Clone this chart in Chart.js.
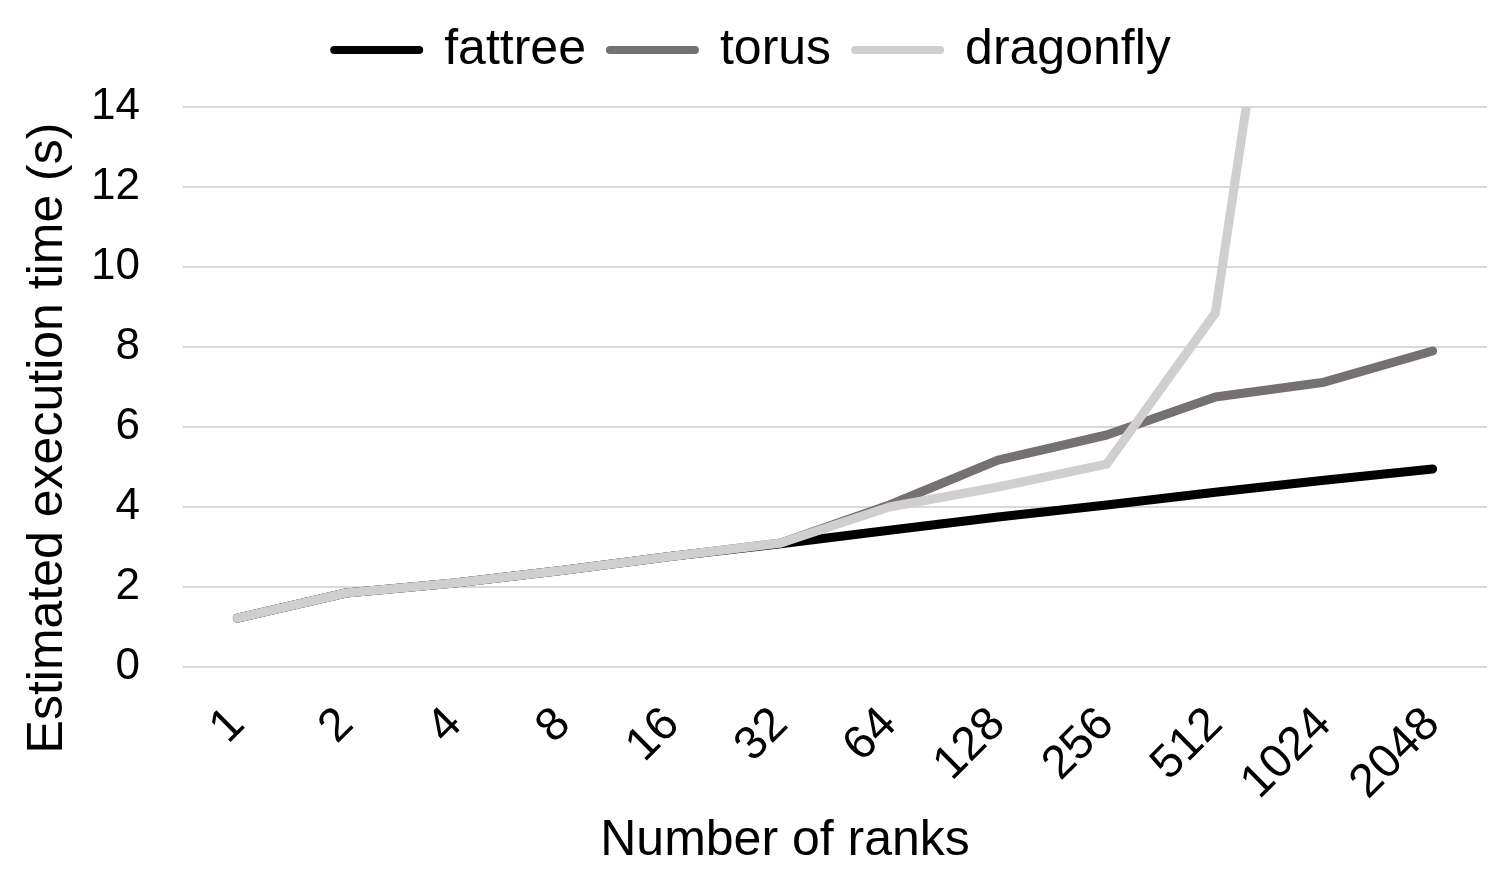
<!DOCTYPE html>
<html lang="en">
<head>
    <meta charset="UTF-8">
    <title>Estimated execution time</title>
    <script src="https://cdn.jsdelivr.net/npm/chart.js"></script>
    <style>
        html, body { margin: 0; padding: 0; background: #ffffff; }
        #wrap { width: 1495px; height: 873px; }
    </style>
</head>
<body>
    <div id="wrap"><canvas id="myChart"></canvas></div>
    <script>
        const ranks = ['1', '2', '4', '8', '16', '32', '64', '128', '256', '512', '1024', '2048'];
        const fattree = [1.22, 1.85, 2.1, 2.42, 2.77, 3.08, 3.42, 3.75, 4.05, 4.37, 4.67, 4.95];
        const torus = [1.22, 1.85, 2.1, 2.42, 2.77, 3.1, 4.05, 5.17, 5.8, 6.75, 7.12, 7.9];
        const dragonfly = [1.22, 1.85, 2.1, 2.42, 2.77, 3.1, 4.0, 4.5, 5.07, 8.85, 27, null];

        const xTitle = 'Number of ranks';
        const yTitle = 'Estimated execution time (s)';

        const font = 'Liberation Sans, Arial, sans-serif';

        // shared look for each line; order puts dragonfly on top like the original
        function series(label, data, color, order) {
            return {
                label: label,
                data: data,
                borderColor: color,
                backgroundColor: color,
                borderWidth: 9,
                pointBorderWidth: 8,
                pointRadius: 0,
                borderCapStyle: 'round',
                borderJoinStyle: 'round',
                tension: 0,
                order: order
            };
        }

        // push the plot area down a bit below the legend
        const legendGap = {
            id: 'legendGap',
            beforeInit(chart) {
                const fit = chart.legend.fit;
                chart.legend.fit = function () {
                    fit.bind(chart.legend)();
                    this.height += 22;
                };
            }
        };

        // axis titles sit off-centre in the original (centred on the whole plot block, not the grid)
        const axisTitles = {
            id: 'axisTitles',
            afterDraw(chart) {
                const c = chart.ctx;
                const area = chart.chartArea;
                c.save();
                c.fillStyle = '#000000';
                c.textAlign = 'center';
                c.textBaseline = 'alphabetic';
                c.font = '50px ' + font;
                c.fillText(xTitle, (area.left + area.right) / 2 - 50, 855);
                c.translate(62, (area.top + area.bottom) / 2 + 51);
                c.rotate(-Math.PI / 2);
                c.fillText(yTitle, 0, 0);
                c.restore();
            }
        };

        const ctx = document.getElementById('myChart').getContext('2d');
        new Chart(ctx, {
            type: 'line',
            data: {
                labels: ranks,
                datasets: [
                    series('fattree', fattree, '#000000', 3),
                    series('torus', torus, '#767171', 2),
                    series('dragonfly', dragonfly, '#d0cece', 1)
                ]
            },
            plugins: [legendGap, axisTitles],
            options: {
                responsive: true,
                maintainAspectRatio: false,
                animation: false,
                layout: { padding: { left: 18, right: 8, top: 1, bottom: 3 } },
                scales: {
                    x: {
                        offset: true,
                        afterFit: (scale) => {
                            scale.height = 203;
                            scale.paddingLeft = 0;
                            scale.paddingRight = 0;
                        },
                        grid: { display: false, drawTicks: false },
                        border: { display: false },
                        ticks: {
                            color: '#000000',
                            font: { family: font, size: 47 },
                            minRotation: 45,
                            maxRotation: 45,
                            padding: 30
                        }
                    },
                    y: {
                        min: 0,
                        max: 14,
                        afterFit: (scale) => { scale.width = 165; },
                        grid: { color: '#d9d9d9', lineWidth: 2, drawTicks: false },
                        border: { display: false },
                        ticks: {
                            stepSize: 2,
                            color: '#000000',
                            font: { family: font, size: 44 },
                            padding: 43
                        }
                    }
                },
                plugins: {
                    legend: {
                        position: 'top',
                        labels: {
                            color: '#000000',
                            font: { family: font, size: 50 },
                            usePointStyle: true,
                            pointStyle: 'line',
                            pointStyleWidth: 85,
                            padding: 24,
                            sort: (a, b) => a.datasetIndex - b.datasetIndex,
                            generateLabels: (chart) => {
                                const items = Chart.defaults.plugins.legend.labels.generateLabels(chart);
                                items.forEach(it => { it.lineCap = 'round'; });
                                return items;
                            }
                        }
                    },
                    tooltip: { enabled: false }
                }
            }
        });
    </script>
</body>
</html>
